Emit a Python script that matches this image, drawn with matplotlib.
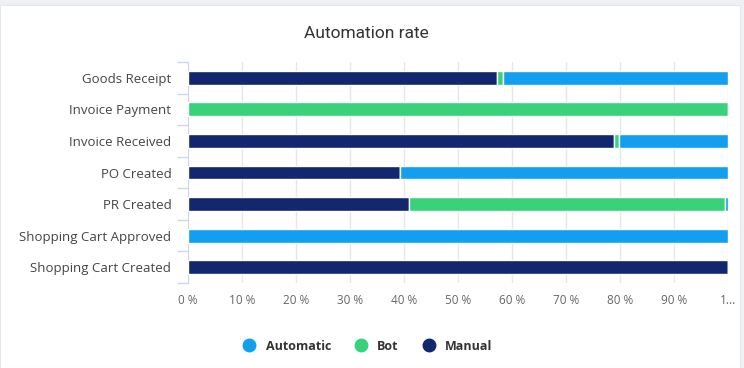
import matplotlib.pyplot as plt
from matplotlib.patches import Rectangle
from matplotlib.lines import Line2D

# data (percent of each step)
steps = ['Goods Receipt', 'Invoice Payment', 'Invoice Received', 'PO Created',
         'PR Created', 'Shopping Cart Approved', 'Shopping Cart Created']
manual = [57.3, 0, 78.9, 39.3, 40.9, 0, 100]
bot = [1.0, 100, 1.0, 0, 58.5, 0, 0]
automatic = [41.7, 0, 20.1, 60.7, 0.6, 100, 0]

series_names = ['Automatic', 'Bot', 'Manual']
colors = {'Automatic': '#139ff0', 'Bot': '#37d27a', 'Manual': '#12276e'}
x_ticks = [0, 10, 20, 30, 40, 50, 60, 70, 80, 90, 100]
x_tick_labels = ['0 %', '10 %', '20 %', '30 %', '40 %', '50 %', '60 %', '70 %', '80 %', '90 %', '1...']

plt.rcParams['font.family'] = ['Open Sans', 'DejaVu Sans']

fig = plt.figure(figsize=(7.44, 3.68), dpi=100)
fig.patch.set_facecolor('#eef0f3')
# white card behind everything
fig.patches.append(Rectangle((0, 0), 740 / 744, 1 - 5 / 368, transform=fig.transFigure,
                             facecolor='white', edgecolor='#e3e6ea', linewidth=0.8, zorder=-1))

ax = fig.add_axes([188 / 744, 1 - 283 / 368, 540 / 744, 221 / 368])
ax.set_facecolor('none')
ax.set_zorder(2)

y = list(range(len(steps)))
h = 0.44
left = [0] * len(steps)
for name, vals in [('Manual', manual), ('Bot', bot), ('Automatic', automatic)]:
    ax.barh(y, vals, left=left, height=h, color=colors[name], edgecolor='white',
            linewidth=1, zorder=3)
    left = [a + b for a, b in zip(left, vals)]

ax.set_xlim(0, 100)
ax.set_ylim(len(steps) - 0.5, -0.5)
ax.set_xticks(x_ticks)
ax.set_xticklabels(x_tick_labels, fontsize=8.5, color='#666666')
ax.set_yticks(y)
ax.set_yticklabels(steps, fontsize=9.5, color='#444444')
ax.tick_params(axis='y', length=0, pad=12)
ax.tick_params(axis='x', length=0, pad=8)
ax.set_yticks([i - 0.5 for i in range(len(steps) + 1)], minor=True)
ax.tick_params(axis='y', which='minor', length=8, color='#ccd6eb', width=1)
ax.grid(axis='x', color='#e6e6e6', linewidth=1, zorder=0)
ax.set_axisbelow(True)
for s in ['top', 'right', 'bottom']:
    ax.spines[s].set_visible(False)
ax.spines['left'].set_color('#ccd6eb')

fig.text(0.493, 1 - 33 / 368, 'Automation rate', ha='center', va='center',
         fontsize=12.5, color='#333333', family=['Roboto', 'DejaVu Sans'])

handles = [Line2D([], [], marker='o', linestyle='none', markersize=9,
                  markerfacecolor=colors[n], markeredgecolor=colors[n]) for n in series_names]
leg = fig.legend(handles, series_names, loc='center', bbox_to_anchor=(0.49, 1 - 346 / 368),
                 ncol=3, frameon=False, handletextpad=0.3, columnspacing=1.4,
                 prop={'weight': 'bold', 'size': 9})
for t in leg.get_texts():
    t.set_color('#333333')

fig.savefig('out.png', dpi=100)
